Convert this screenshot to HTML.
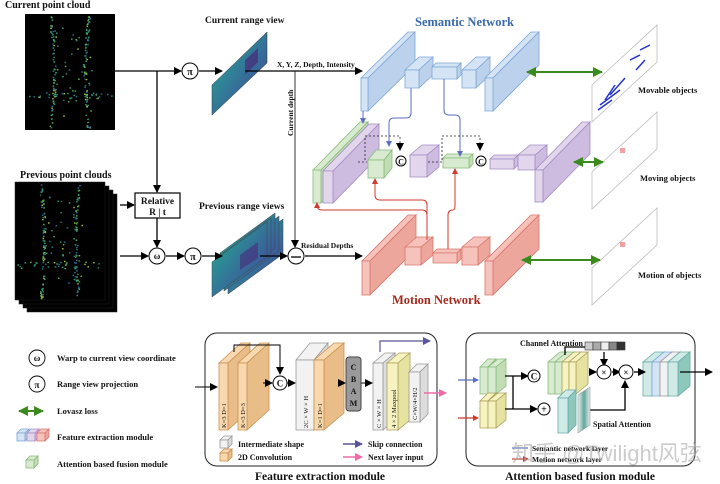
<!DOCTYPE html>
<html><head><meta charset="utf-8"><style>
html,body{margin:0;padding:0;background:#fff;}
svg{display:block;}
text{font-family:"Liberation Serif",serif;font-weight:bold;fill:#111;}
.cjk{font-family:"Liberation Sans","Noto Sans CJK SC",sans-serif;font-weight:normal;}
</style></head><body>
<svg id="s" width="720" height="484" viewBox="0 0 720 484" xmlns="http://www.w3.org/2000/svg">
<defs>
<marker id="ab" markerWidth="8" markerHeight="8" refX="7" refY="4" orient="auto" markerUnits="userSpaceOnUse"><path d="M0,0 L8,4 L0,8 z" fill="#000"/></marker>
<marker id="ag" markerWidth="10" markerHeight="10" refX="9" refY="5" orient="auto-start-reverse" markerUnits="userSpaceOnUse"><path d="M0,0 L10,5 L0,10 z" fill="#3a8a1e"/></marker>
<marker id="au" markerWidth="6" markerHeight="6" refX="5" refY="3" orient="auto" markerUnits="userSpaceOnUse"><path d="M0,0 L6,3 L0,6 z" fill="#5a6fc0"/></marker>
<marker id="ar" markerWidth="6" markerHeight="6" refX="5" refY="3" orient="auto" markerUnits="userSpaceOnUse"><path d="M0,0 L6,3 L0,6 z" fill="#d0392b"/></marker>
<marker id="ap" markerWidth="8" markerHeight="8" refX="7" refY="4" orient="auto" markerUnits="userSpaceOnUse"><path d="M0,0 L8,4 L0,8 z" fill="#f06aa8"/></marker>
<marker id="apu" markerWidth="8" markerHeight="8" refX="7" refY="4" orient="auto" markerUnits="userSpaceOnUse"><path d="M0,0 L8,4 L0,8 z" fill="#5a559a"/></marker>
<linearGradient id="vir" x1="0" y1="0" x2="1" y2="1"><stop offset="0" stop-color="#5cc05a"/><stop offset="0.3" stop-color="#2c8f95"/><stop offset="0.7" stop-color="#3a5f9a"/><stop offset="1" stop-color="#4a2a7a"/></linearGradient>
<linearGradient id="sp" x1="0" y1="0" x2="1" y2="0"><stop offset="0" stop-color="#e8f0ef"/><stop offset="0.5" stop-color="#5fa89a"/><stop offset="1" stop-color="#e8e8f0"/></linearGradient>
</defs>

<!-- point clouds -->
<rect x="25" y="14" width="90" height="116" fill="#000"/>
<g fill="#000" stroke="#222" stroke-width="0.5">
<rect x="27" y="194" width="90" height="118"/><rect x="23" y="190" width="90" height="118"/><rect x="19" y="186" width="90" height="118"/><rect x="15" y="182" width="90" height="118"/>
</g>
<g id="dots"></g>

<text x="5" y="8" font-size="10">Current point cloud</text>
<text x="20" y="178" font-size="10">Previous point clouds</text>
<text x="205" y="23" font-size="9.5">Current range view</text>
<text x="199" y="209" font-size="9.5">Previous range views</text>

<!-- range views -->
<polygon points="212,85 267,32 267,63 212,115" fill="url(#vir)" stroke="#333" stroke-width="0.5"/>
<polygon points="245,60 258,48 258,62 245,75" fill="#4a2a7a" opacity="0.7"/>
<g>
<polygon points="228,259 283,219 283,254 228,294" fill="url(#vir)" stroke="#444" stroke-width="0.5"/>
<polygon points="224,256 279,216 279,251 224,291" fill="url(#vir)" stroke="#444" stroke-width="0.5"/>
<polygon points="220,253 275,213 275,248 220,288" fill="url(#vir)" stroke="#444" stroke-width="0.5"/>
<polygon points="216,258 271,218 271,253 216,293" fill="url(#vir)" stroke="#444" stroke-width="0.5"/>
<polygon points="212,262 267,222 267,257 212,297" fill="url(#vir)" stroke="#444" stroke-width="0.5"/>
<polygon points="240,255 258,242 258,258 240,270" fill="#4a2a7a" opacity="0.6"/>
</g>

<!-- connectors -->
<g stroke="#000" stroke-width="1.3" fill="none">
<line x1="115" y1="71" x2="181" y2="71" marker-end="url(#ab)"/>
<line x1="199" y1="71" x2="222" y2="71" marker-end="url(#ab)"/>
<line x1="245" y1="71" x2="362" y2="71" marker-end="url(#ab)"/>
<line x1="157" y1="71" x2="157" y2="192" marker-end="url(#ab)"/>
<line x1="120" y1="205" x2="134" y2="205" marker-end="url(#ab)"/>
<line x1="157" y1="218" x2="157" y2="247" marker-end="url(#ab)"/>
<line x1="120" y1="256" x2="148" y2="256" marker-end="url(#ab)"/>
<line x1="166" y1="256" x2="184" y2="256" marker-end="url(#ab)"/>
<line x1="202" y1="256" x2="222" y2="256" marker-end="url(#ab)"/>
<line x1="260" y1="256" x2="287" y2="256" marker-end="url(#ab)"/>
<line x1="305" y1="256" x2="362" y2="256" marker-end="url(#ab)"/>
<line x1="295" y1="71" x2="295" y2="247" stroke-width="0.8" marker-end="url(#ab)"/>
</g>
<rect x="135" y="193" width="45" height="25" fill="#fff" stroke="#000" stroke-width="1.2"/>
<text x="157.5" y="204" font-size="9.5" text-anchor="middle">Relative</text>
<text x="157.5" y="215" font-size="9.5" text-anchor="middle">R | t</text>
<g fill="#fff" stroke="#000" stroke-width="1">
<circle cx="190" cy="71" r="8"/><circle cx="157" cy="256" r="8"/><circle cx="193" cy="256" r="8"/><circle cx="296" cy="256" r="8"/>
</g>
<text x="190" y="75" font-size="10" text-anchor="middle" font-weight="normal">π</text>
<text x="157" y="259" font-size="9" text-anchor="middle" font-weight="normal">ω</text>
<text x="193" y="260" font-size="10" text-anchor="middle" font-weight="normal">π</text>
<line x1="291" y1="257" x2="301" y2="257" stroke="#000" stroke-width="1.3"/>
<text x="277" y="67" font-size="7.5">X, Y, Z, Depth, Intensity</text>
<text x="301" y="248" font-size="7.5">Residual Depths</text>
<text transform="translate(293,136) rotate(-90)" font-size="7.5">Current depth</text>

<text x="415" y="26" font-size="12.5" style="fill:#3a6aae">Semantic Network</text>
<text x="392" y="304" font-size="12.5" style="fill:#a8281e">Motion Network</text>

<g id="boxes"></g>

<!-- blue skip connectors -->
<g stroke="#5a6fc0" stroke-width="1" fill="none">
<line x1="363" y1="111" x2="363" y2="123" marker-end="url(#au)"/>
<path d="M411,88 V113 Q411,118 406,118 H394 Q389,118 389,123 V146" marker-end="url(#au)"/>
<path d="M444,79 V110 Q444,115 449,115 H455 Q460,115 460,120 V156" marker-end="url(#au)"/>
</g>
<g stroke="#d0392b" stroke-width="1" fill="none">
<path d="M427,240 V215 Q427,210 422,210 H322 Q317,210 317,205 V203" marker-end="url(#ar)"/>
<path d="M427,215 V205 Q427,200 422,200 H380 Q375,200 375,195 V179" marker-end="url(#ar)"/>
<path d="M448,249 V215 Q448,210 453,210 Q455,210 455,205 V169" marker-end="url(#ar)"/>
</g>
<g stroke="#222" stroke-width="0.8" fill="none" stroke-dasharray="2,2">
<path d="M365,160 V136 H400 V150" marker-end="url(#ab)"/>
<path d="M442,160 V136 H480 V150" marker-end="url(#ab)"/>
<line x1="358" y1="162" x2="367" y2="162"/>
<line x1="428" y1="162" x2="442" y2="162"/>
</g>
<g fill="#fff" stroke="#000" stroke-width="1"><circle cx="401" cy="161" r="5"/><circle cx="481" cy="161" r="5"/></g>
<text x="401" y="164.5" font-size="8" text-anchor="middle" font-family="Liberation Sans">C</text>
<text x="481" y="164.5" font-size="8" text-anchor="middle" font-family="Liberation Sans">C</text>

<!-- output panels -->
<g fill="#fff" stroke="#bbb" stroke-width="0.8">
<polygon points="592,85 657,25 657,62 592,122"/>
<polygon points="592,172 657,112 657,149 592,209"/>
<polygon points="592,268 657,208 657,245 592,305"/>
</g>
<g stroke="#2233cc" stroke-width="1.5" fill="none"><path d="M600,105 L620,90 M605,100 L615,85 M630,60 L640,55 M636,70 L645,60 M610,95 L625,78 M640,50 L650,45 M598,110 L612,100"/></g>
<rect x="620" y="148" width="5" height="5" fill="#f4a0a0"/>
<rect x="620" y="242" width="5" height="5" fill="#f4a0a0"/>
<text x="638" y="93" font-size="8.5">Movable objects</text>
<text x="640" y="181" font-size="8.5">Moving objects</text>
<text x="638" y="278" font-size="8.5">Motion of objects</text>
<g stroke="#3a8a1e" stroke-width="2">
<line x1="527" y1="72" x2="602" y2="72" marker-start="url(#ag)" marker-end="url(#ag)"/>
<line x1="574" y1="162" x2="603" y2="162" marker-start="url(#ag)" marker-end="url(#ag)"/>
<line x1="522" y1="260" x2="600" y2="260" marker-start="url(#ag)" marker-end="url(#ag)"/>
</g>

<!-- legend -->
<g fill="#fff" stroke="#000" stroke-width="0.9"><circle cx="37" cy="358" r="8"/><circle cx="37" cy="384" r="8"/></g>
<text x="37" y="361" font-size="9" text-anchor="middle" font-weight="normal">ω</text>
<text x="37" y="388" font-size="9" text-anchor="middle" font-weight="normal">π</text>
<line x1="19" y1="411" x2="43" y2="411" stroke="#3a8a1e" stroke-width="2" marker-start="url(#ag)" marker-end="url(#ag)"/>
<text x="57" y="361" font-size="8.5">Warp to current view coordinate</text>
<text x="57" y="387" font-size="8.5">Range view projection</text>
<text x="57" y="414" font-size="8.5">Lovasz loss</text>
<text x="57" y="440" font-size="8.5">Feature extraction module</text>
<text x="57" y="467" font-size="8.5">Attention based fusion module</text>

<!-- Feature extraction module -->
<rect x="205" y="333" width="232" height="133" rx="12" fill="none" stroke="#222" stroke-width="1"/>
<text x="320" y="480" font-size="11.5" text-anchor="middle">Feature extraction module</text>
<g id="fe"></g>
<g stroke="#000" stroke-width="1" fill="none">
<line x1="195" y1="387" x2="217" y2="387" marker-end="url(#ab)"/>
<path d="M234,352 V345 H280 V374" marker-end="url(#ab)"/>
<line x1="263" y1="383" x2="272" y2="383" marker-end="url(#ab)"/>
<line x1="287" y1="383" x2="295" y2="383" marker-end="url(#ab)"/>
<line x1="338" y1="383" x2="345" y2="383" marker-end="url(#ab)"/>
<line x1="361" y1="383" x2="372" y2="383" marker-end="url(#ab)"/>
</g>
<rect x="346" y="357" width="15" height="54" rx="3" fill="#9a9a9a" stroke="#444"/>
<text x="353.5" y="370" font-size="8" text-anchor="middle">C</text>
<text x="353.5" y="382" font-size="8" text-anchor="middle">B</text>
<text x="353.5" y="394" font-size="8" text-anchor="middle">A</text>
<text x="353.5" y="406" font-size="8" text-anchor="middle">M</text>
<circle cx="280" cy="383" r="7" fill="#fff" stroke="#000"/>
<text x="280" y="386.5" font-size="9" text-anchor="middle" font-family="Liberation Sans">C</text>
<path d="M380,352 V341 H430" stroke="#5a559a" stroke-width="1.2" fill="none" marker-end="url(#apu)"/>
<line x1="424" y1="393" x2="446" y2="393" stroke="#f06aa8" stroke-width="1.5" marker-end="url(#ap)"/>
<line x1="343" y1="444" x2="362" y2="444" stroke="#5a559a" stroke-width="1.5" marker-end="url(#apu)"/>
<line x1="343" y1="457" x2="362" y2="457" stroke="#f06aa8" stroke-width="1.5" marker-end="url(#ap)"/>
<text x="238" y="447" font-size="8">Intermediate shape</text>
<text x="238" y="460" font-size="8">2D Convolution</text>
<text x="368" y="447" font-size="8">Skip connection</text>
<text x="368" y="460" font-size="8">Next layer input</text>

<!-- Attention module -->
<rect x="466" y="333" width="229" height="133" rx="12" fill="none" stroke="#222" stroke-width="1"/>
<text x="580" y="480" font-size="11.5" text-anchor="middle">Attention based fusion module</text>
<g id="att"></g>
<g stroke-width="1.3" fill="none">
<line x1="458" y1="380" x2="478" y2="380" stroke="#5a6fc0" marker-end="url(#au)"/>
<line x1="458" y1="418" x2="478" y2="418" stroke="#d0392b" marker-end="url(#ar)"/>
<g stroke="#000">
<line x1="505" y1="376" x2="528" y2="376" marker-end="url(#ab)"/>
<line x1="513" y1="376" x2="513" y2="409"/>
<line x1="505" y1="409" x2="537" y2="409" marker-end="url(#ab)"/>
<path d="M565,355 V347 H590" />
<line x1="604" y1="352" x2="604" y2="366" marker-end="url(#ab)"/>
<line x1="590" y1="372" x2="596" y2="372" marker-end="url(#ab)"/>
<line x1="612" y1="372" x2="620" y2="372" marker-end="url(#ab)"/>
<path d="M590,410 H625 V381" marker-end="url(#ab)"/>
<line x1="634" y1="372" x2="645" y2="372" marker-end="url(#ab)"/>
<line x1="680" y1="372" x2="712" y2="372" marker-end="url(#ab)"/>
</g></g>
<g fill="#fff" stroke="#000"><circle cx="534" cy="376" r="6"/><circle cx="544" cy="409" r="6"/><circle cx="604" cy="372" r="7"/><circle cx="626" cy="372" r="7"/></g>
<text x="534" y="379.5" font-size="9" text-anchor="middle" font-family="Liberation Sans">C</text>
<text x="544" y="412.5" font-size="10" text-anchor="middle" font-family="Liberation Sans">+</text>
<text x="604" y="375.5" font-size="9" text-anchor="middle" font-family="Liberation Sans">×</text>
<text x="626" y="375.5" font-size="9" text-anchor="middle" font-family="Liberation Sans">×</text>
<g stroke="#333" stroke-width="0.6">
<rect x="585" y="342" width="8" height="8" fill="#ccc"/><rect x="593" y="342" width="8" height="8" fill="#aaa"/><rect x="601" y="342" width="8" height="8" fill="#eee"/><rect x="609" y="342" width="8" height="8" fill="#888"/><rect x="617" y="342" width="8" height="8" fill="#333"/>
</g>
<polygon points="578,395 590,387 590,425 578,433" fill="url(#sp)" stroke="#999" stroke-width="0.6"/>
<text x="520" y="346" font-size="8">Channel Attention</text>
<text x="593" y="427" font-size="8">Spatial Attention</text>
<line x1="512" y1="448" x2="528" y2="448" stroke="#5a6fc0" stroke-width="1.2"/>
<line x1="512" y1="459" x2="528" y2="459" stroke="#d0392b" stroke-width="1.2" marker-end="url(#ar)"/>
<text x="532" y="451" font-size="7.5">Semantic network layer</text>
<text x="532" y="462" font-size="7.5">Motion network layer</text>
<text x="512" y="461" font-size="22" class="cjk" style="fill:rgba(170,170,170,0.6)">知乎 @Twilight风弦</text>
</svg>
<script>
(function(){
var NS='http://www.w3.org/2000/svg';
var C={b:['#d4e4f5','#bcd2ec','#7ea6d8'],p:['#e2d6ec','#cdbbe0','#a48cc4'],g:['#d8ebd0','#c2ddb6','#88bb78'],r:['#f6c3bc','#eca69c','#d9776c'],o:['#f8d8ae','#e9bd88','#c99050'],w:['#f2f2f2','#dcdcdc','#999'],y:['#f6f3c0','#e6e2a0','#aaa060'],t:['#d0ebe6','#8ec8bd','#6aa']};
var g;
function poly(pts,f,s){var p=document.createElementNS(NS,'polygon');p.setAttribute('points',pts.map(function(a){return a.join(',')}).join(' '));p.setAttribute('fill',f);p.setAttribute('stroke',s);p.setAttribute('stroke-width','0.8');g.appendChild(p);}
function box(x,y,w,h,dx,dy,c){var k=C[c];
poly([[x,y],[x+dx,y+dy],[x+w+dx,y+dy],[x+w,y]],k[0],k[2]);
poly([[x+w,y],[x+w+dx,y+dy],[x+w+dx,y+h+dy],[x+w,y+h]],k[1],k[2]);
poly([[x,y],[x+w,y],[x+w,y+h],[x,y+h]],k[0],k[2]);}
// dots on point clouds
g=document.getElementById('dots');
var seed=7;function rnd(){seed=(seed*9301+49297)%233280;return seed/233280;}
var cols=['#2f8f6a','#3aa07a','#2a6f9a','#5fb050','#9ac040','#287080'];
function cloud(x0,y0,w,h){for(var i=0;i<260;i++){var u=rnd(),v=rnd();var x,y;
var m=rnd();if(m<0.25){x=x0+w*0.25+Math.sin(v*3)*4+rnd()*3;y=y0+v*h;}else if(m<0.5){x=x0+w*0.7-Math.sin(v*3)*4+rnd()*3;y=y0+v*h;}else if(m<0.65){x=x0+u*w;y=y0+h*0.68+rnd()*6;}else{x=x0+w*(0.3+0.45*u);y=y0+h*(0.1+0.8*v);if(rnd()<0.5)continue;}
var r=document.createElementNS(NS,'rect');r.setAttribute('x',x.toFixed(1));r.setAttribute('y',y.toFixed(1));r.setAttribute('width','1.6');r.setAttribute('height','1.4');r.setAttribute('fill',cols[Math.floor(rnd()*cols.length)]);g.appendChild(r);}}
cloud(27,16,86,112);cloud(17,184,86,114);
g=document.getElementById('boxes');
box(361,78,7,33,47,-46,'b');box(405,70,14,18,14,-13,'b');box(432,67,25,12,4,-4,'b');box(462,70,14,18,14,-13,'b');box(485,78,8,33,46,-46,'b');
box(313,170,8,33,47,-48,'g');box(323,171,10,32,46,-47,'p');
box(368,160,16,18,8,-10,'g');box(410,155,17,22,12,-10,'p');box(443,158,26,10,4,-4,'g');
box(490,159,24,10,4,-4,'p');box(518,155,17,15,12,-10,'p');box(535,170,8,32,47,-48,'p');
box(362,261,8,34,46,-46,'r');box(405,247,16,18,12,-10,'r');box(433,253,24,10,4,-4,'r');box(462,247,16,18,12,-10,'r');box(485,261,8,34,46,-46,'r');
box(17,433,8,8,4,-4,'b');box(27,433,8,8,4,-4,'p');box(37,433,8,8,4,-4,'r');box(26,460,8,8,4,-4,'g');
g=document.getElementById('fe');
box(219,363,9,67,22,-20,'o');box(238,363,9,67,22,-20,'o');
box(296,360,18,70,14,-17,'w');box(314,360,10,70,20,-17,'o');
box(373,363,10,67,12,-10,'w');box(387,363,11,67,12,-10,'y');box(409,372,11,50,8,-8,'w');
box(220,440,8,8,4,-4,'w');box(220,453,8,8,4,-4,'o');
g=document.getElementById('att');
box(480,367,8,27,8,-8,'g');box(488,367,8,27,10,-8,'g');
box(480,401,8,27,8,-8,'y');box(488,401,8,27,10,-8,'y');
box(548,362,7,32,12,-10,'g');box(555,362,7,32,12,-10,'g');box(562,362,7,32,12,-10,'y');box(569,362,7,32,12,-10,'y');
box(558,398,10,35,8,-8,'t');
box(643,362,9,34,12,-10,'t');box(652,362,8,34,12,-10,'b');box(660,362,8,34,12,-10,'w');box(668,362,10,34,12,-10,'t');
// rotated labels
var labs=[[226,428,'K=3  D=1'],[245,428,'K=3  D=3'],[308,428,'2C × W × H'],[322,428,'K=1  D=1'],[381,428,'C × W × H'],[396,428,'4 × 2 Maxpool'],[417,420,'C×W/4×H/2']];
labs.forEach(function(l){var t=document.createElementNS(NS,'text');t.setAttribute('transform','translate('+l[0]+','+l[1]+') rotate(-90)');t.setAttribute('font-size','6.5');t.setAttribute('style','font-weight:normal');t.textContent=l[2];g.appendChild(t);});
})();
</script>
</body></html>
